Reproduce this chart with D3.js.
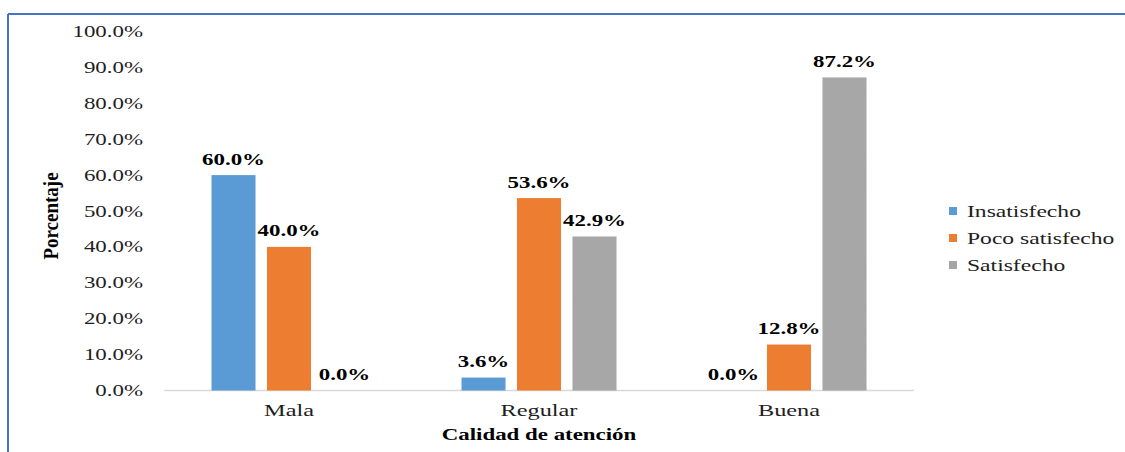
<!DOCTYPE html>
<html>
<head>
<meta charset="utf-8">
<script src="https://cdn.jsdelivr.net/npm/d3@7"></script>
<style>
  html, body { margin: 0; padding: 0; background: #fff; }
  svg { display: block; }
</style>
</head>
<body>
<svg id="chart" width="1125" height="452"></svg>
<script>
// Data
const categories = ["Mala", "Regular", "Buena"];
const seriesNames = ["Insatisfecho", "Poco satisfecho", "Satisfecho"];
const insatisfecho = [60.0, 3.6, 0.0];
const pocoSatisfecho = [40.0, 53.6, 12.8];
const satisfecho = [0.0, 42.9, 87.2];
const yTicks = [0, 10, 20, 30, 40, 50, 60, 70, 80, 90, 100];
const colors = ["#5b9bd5", "#ed7d31", "#a5a5a5"];

const seriesValues = [insatisfecho, pocoSatisfecho, satisfecho];
const rows = categories.map((c, i) => ({
  cat: c,
  vals: seriesNames.map((s, j) => ({ series: s, idx: j, value: seriesValues[j][i] }))
}));

const FONT = "'Liberation Serif', 'Times New Roman', Times, serif";
const svg = d3.select("#chart");
const SX = 1.43; // horizontal stretch of the lettering

// Fine grain on the grey series
const defs = svg.append("defs");
const grain = defs.append("filter").attr("id", "grain").attr("x", 0).attr("y", 0).attr("width", 1).attr("height", 1);
grain.append("feTurbulence").attr("type", "fractalNoise").attr("baseFrequency", 0.9).attr("numOctaves", 1).attr("seed", 3).attr("result", "noise");
grain.append("feColorMatrix").attr("in", "noise").attr("type", "matrix")
  .attr("values", "0 0 0 0 0.5  0 0 0 0 0.5  0 0 0 0 0.5  0 0 0 0.18 0").attr("result", "tint");
grain.append("feComposite").attr("in", "tint").attr("in2", "SourceGraphic").attr("operator", "in").attr("result", "masked");
const merge = grain.append("feMerge");
merge.append("feMergeNode").attr("in", "SourceGraphic");
merge.append("feMergeNode").attr("in", "masked");

// Outer frame (top and left edges)
svg.append("line").attr("x1", 8).attr("y1", 14).attr("x2", 1125).attr("y2", 14)
  .attr("stroke", "#4472c4").attr("stroke-width", 2);
svg.append("line").attr("x1", 8).attr("y1", 14).attr("x2", 8).attr("y2", 452)
  .attr("stroke", "#4472c4").attr("stroke-width", 2);

const plot = { left: 164, right: 914, top: 31.5, bottom: 390.5 };

const x0 = d3.scaleBand().domain(categories).range([plot.left, plot.right]).paddingInner(0).paddingOuter(0);
const x1 = d3.scaleBand().domain(seriesNames).range([0, x0.bandwidth()]).paddingInner(0.207).paddingOuter(0.856);
const y = d3.scaleLinear().domain([0, 100]).range([plot.bottom, plot.top]);

// helper: horizontally stretched text at (x, y)
function stretchedText(sel, x, yy, str, opts) {
  const g = sel.append("g").attr("transform", `translate(${x},${yy}) scale(${opts.sx || SX},1)` + (opts.rotate ? ` rotate(${opts.rotate})` : ""));
  return g.append("text")
    .attr("font-family", FONT)
    .attr("text-anchor", opts.anchor || "middle")
    .attr("font-size", opts.size || 16)
    .attr("font-weight", opts.weight || "normal")
    .attr("fill", opts.fill || "#1e1e1e")
    .text(str);
}

// Y axis tick labels
const yAxisG = svg.append("g");
yTicks.forEach(t => {
  stretchedText(yAxisG, 143, y(t) + 5.5, d3.format(".1f")(t) + "%", { anchor: "end", size: 16 });
});

// Baseline
svg.append("line")
  .attr("x1", plot.left).attr("x2", plot.right)
  .attr("y1", y(0)).attr("y2", y(0))
  .attr("stroke", "#d9d9d9").attr("stroke-width", 1.5);

// Bars
const groups = svg.append("g").selectAll("g.cat").data(rows).join("g")
  .attr("class", "cat")
  .attr("transform", d => `translate(${x0(d.cat)},0)`);

groups.selectAll("rect").data(d => d.vals).join("rect")
  .attr("x", d => x1(d.series))
  .attr("width", x1.bandwidth())
  .attr("y", d => y(d.value))
  .attr("height", d => y(0) - y(d.value))
  .attr("fill", d => colors[d.idx])
  .attr("filter", d => d.idx === 2 && d.value > 0 ? "url(#grain)" : null);

// Value labels
rows.forEach(r => {
  r.vals.forEach(v => {
    const cx = x0(r.cat) + x1(v.series) + x1.bandwidth() / 2;
    stretchedText(svg, cx, y(v.value) - 10.5, d3.format(".1f")(v.value) + "%", { size: 16, weight: "bold", fill: "#000" });
  });
});

// Category labels
categories.forEach(c => {
  stretchedText(svg, x0(c) + x0.bandwidth() / 2, 416, c, { size: 17 });
});

// Axis titles
stretchedText(svg, (plot.left + plot.right) / 2, 440, "Calidad de atención", { size: 16, weight: "bold", fill: "#000" });
stretchedText(svg, 58, 216, "Porcentaje", { size: 19, weight: "bold", fill: "#000", sx: 1.1, rotate: -90 });

// Legend
const legend = svg.append("g");
seriesNames.forEach((s, i) => {
  const ly = 211 + i * 27;
  legend.append("rect").attr("x", 949).attr("y", ly - 4).attr("width", 8).attr("height", 8).attr("fill", colors[i]);
  stretchedText(legend, 967, ly + 5.5, s, { anchor: "start", size: 16.5 });
});
</script>
</body>
</html>
